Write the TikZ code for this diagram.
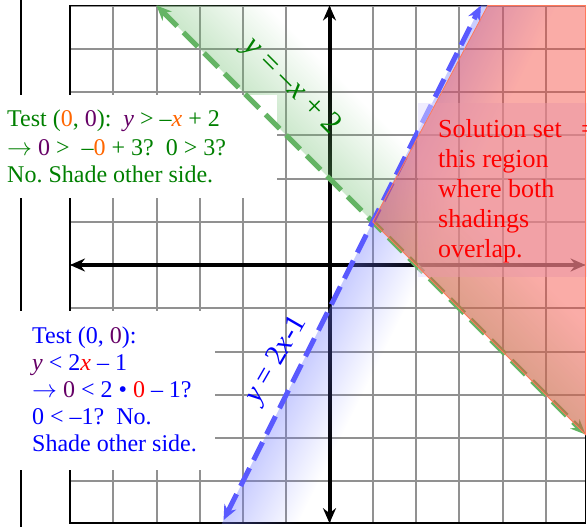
\documentclass[tikz,border=0pt]{standalone}
\usepackage{fontspec}
\setmainfont{Liberation Serif}
\usetikzlibrary{arrows.meta,fadings}
\definecolor{tgreen}{RGB}{0,128,0}
\definecolor{tpurple}{RGB}{102,0,102}
\definecolor{torange}{RGB}{255,102,0}
\definecolor{tblue}{RGB}{0,0,255}
\definecolor{tred}{RGB}{255,0,0}
\definecolor{gridgray}{RGB}{145,145,145}
\definecolor{gdash}{RGB}{100,180,100}
\definecolor{bdash}{RGB}{90,90,255}
\definecolor{gshade}{RGB}{110,190,110}
\definecolor{bshade}{RGB}{110,120,255}
\definecolor{redfill}{RGB}{245,70,60}
\definecolor{redline}{RGB}{255,120,90}
\definecolor{lav}{RGB}{225,220,255}
\tikzfading[name=myfade, left color=transparent!0, right color=transparent!100]
\frenchspacing
\begin{document}
\begin{tikzpicture}[x=1pt,y=-1pt,
  txt/.style={anchor=base west, inner sep=0pt, font=\fontsize{24}{27}\selectfont},
  rtxt/.style={anchor=base west, inner sep=0pt, font=\fontsize{26}{30}\selectfont, text=tred},
  lbl/.style={inner sep=0pt},
  gridline/.style={draw=gridgray, line width=2pt},
  axisline/.style={line width=4pt, {Stealth[length=15pt,width=13pt,inset=5pt]}-{Stealth[length=15pt,width=13pt,inset=5pt]}},
  gline/.style={draw=gdash, line width=5pt, dash pattern=on 20pt off 9pt, {Stealth[length=15pt,width=13pt]}-{Stealth[length=15pt,width=13pt]}},
  bline/.style={draw=bdash, line width=5pt, dash pattern=on 20pt off 9pt, {Stealth[length=15pt,width=13pt]}-{Stealth[length=15pt,width=13pt]}},
  mathsys/.style={shift={(329.5,265)}, x=43.25pt, y=43.25pt}
]
\useasboundingbox (0,0) rectangle (587,527);
\clip (0,0) rectangle (587,527);
% left edge line
\draw[line width=2pt] (21,0) -- (21,527);
% grid and axes
\begin{scope}[mathsys]
  \draw[gridline, step=1] (-6,-5.97) grid (5.92,6);
  \draw[line width=1.5pt] (-6,-5.97) rectangle (5.92,6);
  \coordinate (xl) at (-6,0); \coordinate (xr) at (5.92,0);
  \coordinate (yb) at (0,-5.97); \coordinate (yt) at (0,6);
  \draw[axisline] (xl) -- (xr);
  \draw[axisline] (yb) -- (yt);
\end{scope}
% gradient shadings
\begin{scope}
  \clip (68.3,5.5) rectangle (585.5,523);
  \begin{scope}[transform canvas={shift={(372.75pt,-221.75pt)},rotate=45}]
    \fill[gshade, fill opacity=0.36, path fading=myfade] (0pt,-800pt) rectangle (78pt,800pt);
  \end{scope}
  \begin{scope}[transform canvas={shift={(372.75pt,-221.75pt)},rotate=-26.565}]
    \fill[bshade, fill opacity=0.38, path fading=myfade] (0pt,-800pt) rectangle (68pt,800pt);
  \end{scope}
\end{scope}
% white text backgrounds
\fill[white] (0,95) rectangle (277,198);
\fill[white] (0,311) rectangle (215,470);
% boundary lines
\begin{scope}[mathsys]
  \coordinate (ga) at (-4,6); \coordinate (gb) at (5.92,-3.92);
  \coordinate (ba) at (-2.45,-5.9); \coordinate (bb) at (3.5,6);
  \draw[gline] (ga) -- (gb);
  \draw[bline] (ba) -- (bb);
\end{scope}
% solution region
\fill[lav, fill opacity=0.5] (418,103) rectangle (587,277);
\begin{scope}[mathsys]
  \filldraw[fill=redfill, fill opacity=0.45, draw=redline, line width=0.8pt]
    (1,1) -- (3.66,6) -- (5.92,6) -- (5.92,-3.92) -- cycle;
\end{scope}
% line labels
\node[lbl, text=tgreen, rotate=-45, font=\fontsize{31}{33}\selectfont] (gl) at (291,87) {\textit{y} = –\textit{x} + 2};
\node[lbl, text=tblue, rotate=60, font=\fontsize{29}{31}\selectfont] (bl) at (277,360) {\textit{y} = 2\textit{x}-1};
% green test text
\node[txt, text=tgreen] (g1) at (7,127) {Test (\textcolor{torange}{0}, \textcolor{tpurple}{0}):\ \ \textcolor{tpurple}{\textit{y}} > –\textcolor{torange}{\textit{x}} + 2};
\node[txt, text=tgreen] (g2) at (7,155) {$\rightarrow$ \textcolor{tpurple}{0} >\ \ –\textcolor{torange}{0} + 3?\ \ 0 > 3?};
\node[txt, text=tgreen] (g3) at (7,182) {No. Shade other side.};
% blue test text
\node[txt, text=tblue] (b1) at (32,343) {Test (0, \textcolor{tpurple}{0}):};
\node[txt, text=tblue] (b2) at (32,370) {\textcolor{tpurple}{\textit{y}} < 2\textcolor{tred}{\textit{x}} – 1};
\node[txt, text=tblue] (b3) at (32,397) {$\rightarrow$ \textcolor{tpurple}{0} < 2 • \textcolor{tred}{0} – 1?};
\node[txt, text=tblue] (b4) at (32,424) {0 < –1?\ \ No.};
\node[txt, text=tblue] (b5) at (32,451) {Shade other side.};
% red text
\node[rtxt] (r1) at (438,137) {Solution set\ \ \ =};
\node[rtxt] (r2) at (438,167) {this region};
\node[rtxt] (r3) at (438,197) {where both};
\node[rtxt] (r4) at (438,227) {shadings};
\node[rtxt] (r5) at (438,257) {overlap.};
\end{tikzpicture}
\end{document}
